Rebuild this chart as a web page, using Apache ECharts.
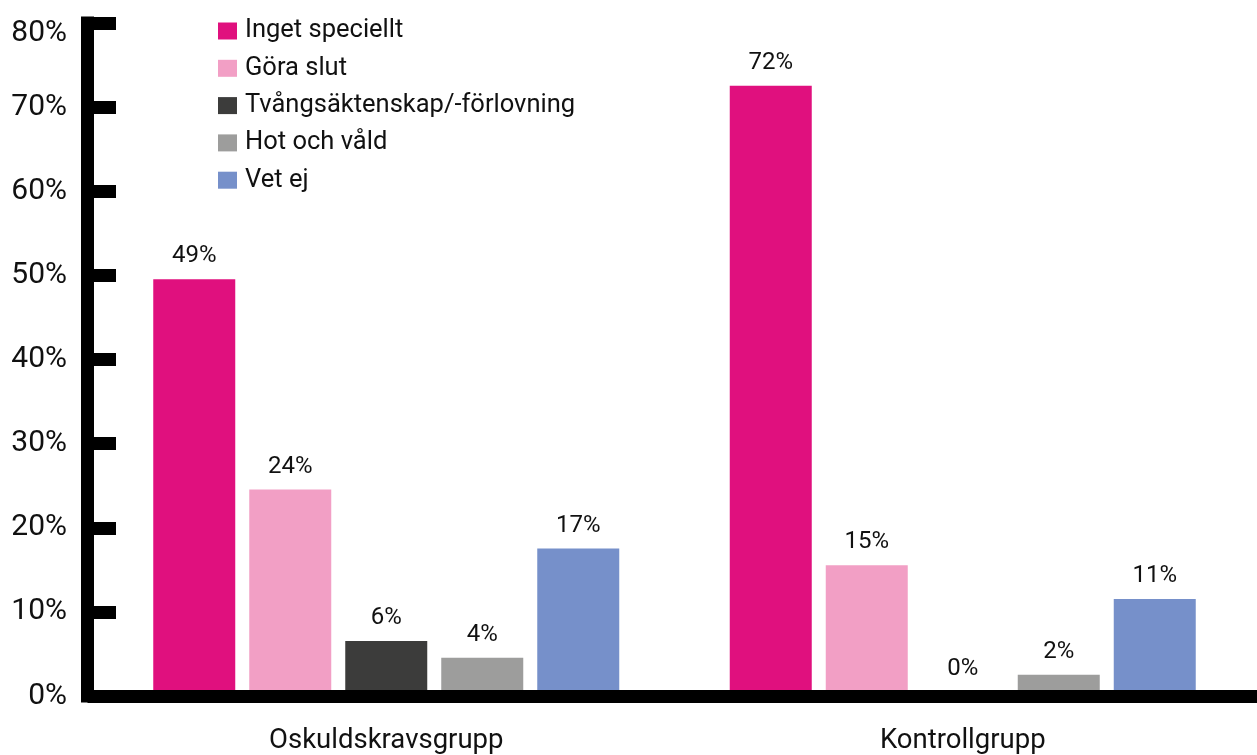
<!DOCTYPE html>
<html>
<head>
<meta charset="utf-8">
<script src="https://cdn.jsdelivr.net/npm/echarts@6/dist/echarts.min.js"></script>
<style>
html,body{margin:0;padding:0;background:#fff;}
#c{width:1257px;height:755px;}
</style>
</head>
<body>
<div id="c"></div>
<script>
const categories = ['Oskuldskravsgrupp', 'Kontrollgrupp'];
const seriesNames = ['Inget speciellt', 'Göra slut', 'Tvångsäktenskap/-förlovning', 'Hot och våld', 'Vet ej'];
const ingetSpeciellt = [49, 72];
const goraSlut = [24, 15];
const tvangsaktenskap = [6, 0];
const hotOchVald = [4, 2];
const vetEj = [17, 11];
const colors = ['#E0107E', '#F29FC5', '#3C3C3B', '#9D9D9C', '#7690CA'];
const yMin = 0, yMax = 80, yInterval = 10;

const seriesValues = [ingetSpeciellt, goraSlut, tvangsaktenskap, hotOchVald, vetEj];

const gridTop = 23, gridBottom = 56.5;
const plotH = 755 - gridTop - gridBottom;
const pxPerUnit = plotH / (yMax - yMin);
const barShift = 4.5 / pxPerUnit; // bars' baseline sits slightly above the axis line centre

const textColor = '#111';

const chart = echarts.init(document.getElementById('c'), null, {renderer: 'canvas'});
chart.setOption({
  animation: false,
  backgroundColor: '#fff',
  color: colors,
  grid: {left: 98, right: 6, top: gridTop, bottom: gridBottom, containLabel: false},
  legend: {
    orient: 'vertical',
    left: 218,
    top: 18,
    padding: 0,
    icon: 'rect',
    itemWidth: 19,
    itemHeight: 17,
    itemGap: 11.3,
    data: seriesNames,
    textStyle: {fontFamily: 'Roboto', fontSize: 25.5, lineHeight: 26, color: textColor, padding: [0, 0, 0, 3]}
  },
  xAxis: {
    type: 'category',
    data: categories,
    z: 10,
    axisLine: {show: true, lineStyle: {color: '#000', width: 13, cap: 'square'}},
    axisTick: {show: false},
    axisLabel: {fontFamily: 'Roboto', fontSize: 27.5, color: textColor, margin: 31}
  },
  yAxis: [
    {
      type: 'value',
      min: yMin, max: yMax, interval: yInterval,
      offset: 10.5,
      z: 10,
      splitLine: {show: false},
      axisLine: {show: true, lineStyle: {color: '#000', width: 13, cap: 'square'}},
      axisTick: {show: true, inside: true, length: 28.5, lineStyle: {color: '#000', width: 13}},
      axisLabel: {
        fontFamily: 'Roboto', fontSize: 30, color: textColor, margin: 20.5,
        formatter: v => v === yMax ? '{top|' + v + '%}' : v + '%',
        rich: {top: {fontFamily: 'Roboto', fontSize: 30, color: textColor, padding: [20, 0, 0, 0]}}
      }
    },
    {
      type: 'value',
      show: false,
      min: yMin - barShift,
      max: yMax - barShift,
      splitLine: {show: false}
    }
  ],
  series: seriesNames.map((name, i) => ({
    name: name,
    type: 'bar',
    yAxisIndex: 1,
    data: seriesValues[i],
    barWidth: 82,
    barGap: (14 / 82 * 100) + '%',
    itemStyle: {color: colors[i]},
    label: {
      show: true,
      position: 'top',
      distance: 11,
      fontFamily: 'Roboto',
      fontSize: 24,
      color: textColor,
      formatter: p => p.value + '%'
    }
  }))
});
</script>
</body>
</html>
